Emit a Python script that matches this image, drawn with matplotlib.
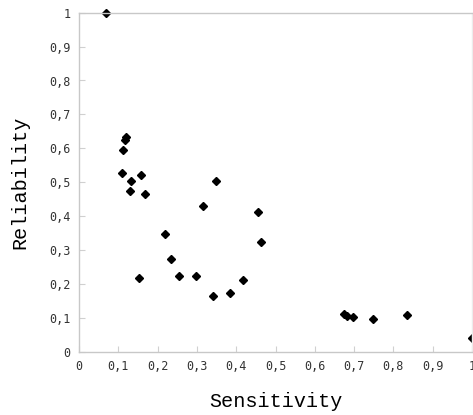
import numpy as np
import matplotlib
matplotlib.use('Agg')
import matplotlib.pyplot as plt
from matplotlib.ticker import FuncFormatter

# values
sensitivity = [0.068, 0.119, 0.117, 0.113, 0.109, 0.133, 0.159, 0.131, 0.167,
               0.349, 0.316, 0.153, 0.219, 0.235, 0.254, 0.298, 0.342, 0.384,
               0.456, 0.463, 0.418, 0.675, 0.683, 0.697, 0.749, 0.835, 1.0]
reliability = [1.0, 0.634, 0.624, 0.595, 0.527, 0.504, 0.522, 0.475, 0.465,
               0.504, 0.429, 0.218, 0.347, 0.273, 0.222, 0.222, 0.164, 0.172,
               0.412, 0.325, 0.212, 0.110, 0.106, 0.102, 0.097, 0.108, 0.039]
ticks = np.round(np.arange(0, 1.01, 0.1), 1)


def comma_fmt(v, pos):
    if abs(v - round(v)) < 1e-9:
        return '%d' % round(v)
    return ('%.1f' % v).replace('.', ',')


fig = plt.figure(figsize=(4.73, 4.15), dpi=100)
ax = fig.add_axes([79 / 473, 63.3 / 415, 393 / 473, 339 / 415])

ax.plot(sensitivity, reliability, 'D', color='black', markersize=4.2, clip_on=False)

ax.set_xlim(0, 1)
ax.set_ylim(0, 1)
ax.set_xticks(ticks)
ax.set_yticks(ticks)
ax.xaxis.set_major_formatter(FuncFormatter(comma_fmt))
ax.yaxis.set_major_formatter(FuncFormatter(comma_fmt))

for s in ax.spines.values():
    s.set_color('#c8c8c8')
    s.set_linewidth(1)
ax.spines['right'].set_color('#ececec')

ax.tick_params(direction='in', length=4, color='#d0d0d0', labelcolor='#333333',
               labelsize=8.5, pad=6)
for lab in ax.get_xticklabels() + ax.get_yticklabels():
    lab.set_family('DejaVu Sans Mono')

ax.set_xlabel('Sensitivity', family='Liberation Mono', fontsize=14.5, labelpad=14)
ax.set_ylabel('Reliability', family='Liberation Mono', fontsize=14.5, labelpad=14)

fig.savefig('out.png', dpi=100)
